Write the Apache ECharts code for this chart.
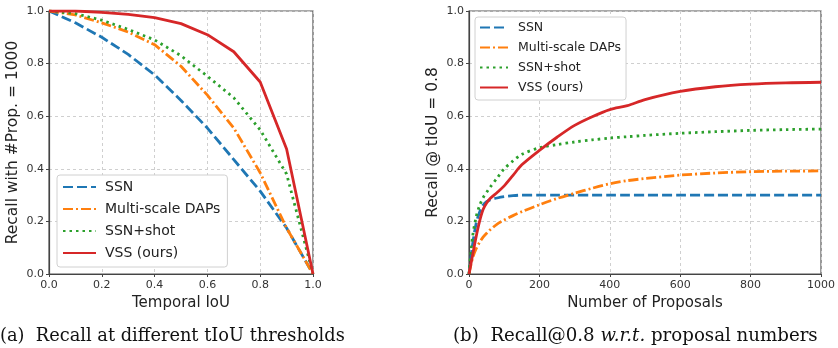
<!DOCTYPE html>
<html>
<head>
<meta charset="utf-8">
<script src="https://cdn.jsdelivr.net/npm/echarts@6/dist/echarts.min.js"></script>
<style>
  html, body { margin: 0; padding: 0; background: #fff; }
  #main { width: 838px; height: 348px; }
</style>
</head>
<body>
<div id="main"></div>
<script>
// (a) recall vs temporal IoU, #proposals = 1000
const iouThresh = [0.0, 0.1, 0.2, 0.3, 0.4, 0.5, 0.6, 0.7, 0.8, 0.9, 1.0];
const ssnIou  = [1.0, 0.955, 0.90, 0.835, 0.757, 0.66, 0.555, 0.435, 0.315, 0.175, 0.0];
const dapsIou = [1.0, 0.985, 0.955, 0.92, 0.872, 0.79, 0.68, 0.555, 0.385, 0.175, 0.0];
const shotIou = [1.0, 0.99, 0.965, 0.93, 0.89, 0.83, 0.752, 0.67, 0.548, 0.38, 0.0];
const vssIou  = [1.0, 1.0, 0.995, 0.987, 0.975, 0.952, 0.91, 0.845, 0.73, 0.475, 0.0];

// (b) recall@0.8 vs number of proposals
const proposals = [0, 10, 20, 30, 40, 50, 60, 80, 100, 125, 150, 200, 250, 300, 350, 400, 450, 500, 600, 700, 800, 900, 1000];
const ssnProp  = [0, 0.11, 0.19, 0.235, 0.262, 0.275, 0.282, 0.289, 0.294, 0.298, 0.30, 0.30, 0.30, 0.30, 0.30, 0.30, 0.30, 0.30, 0.30, 0.30, 0.30, 0.30, 0.30];
const dapsProp = [0, 0.06, 0.095, 0.12, 0.14, 0.155, 0.168, 0.19, 0.205, 0.222, 0.237, 0.263, 0.287, 0.307, 0.326, 0.343, 0.355, 0.363, 0.376, 0.384, 0.389, 0.391, 0.392];
const shotProp = [0, 0.14, 0.215, 0.26, 0.29, 0.31, 0.33, 0.365, 0.40, 0.43, 0.455, 0.48, 0.492, 0.502, 0.51, 0.517, 0.522, 0.527, 0.535, 0.541, 0.546, 0.549, 0.551];
const vssProp  = [0, 0.07, 0.14, 0.20, 0.245, 0.27, 0.287, 0.31, 0.335, 0.375, 0.415, 0.47, 0.52, 0.565, 0.598, 0.625, 0.64, 0.663, 0.694, 0.712, 0.722, 0.727, 0.729];

const names = ['SSN', 'Multi-scale DAPs', 'SSN+shot', 'VSS (ours)'];
const colors = ['#1f77b4', '#ff7f0e', '#2ca02c', '#d62728'];
const dashes = [[10, 4], [10, 3, 2, 3], [2.5, 4], 'solid'];

const FONT = 'DejaVu Sans';

function pairs(xs, ys) { return xs.map((x, i) => [x, ys[i]]); }

function makeSeries(gridIdx, xs, ysList, smooth) {
  return ysList.map((ys, k) => ({
    name: names[k],
    type: 'line',
    xAxisIndex: gridIdx,
    yAxisIndex: gridIdx,
    data: pairs(xs, ys),
    symbol: 'none',
    smooth: smooth,
    lineStyle: { color: colors[k], width: 2.8, type: dashes[k], cap: 'butt' },
    itemStyle: { color: colors[k] },
    z: 3 + k
  }));
}

function xAxisOpt(gridIdx, max, interval, name, fmt) {
  return {
    type: 'value', gridIndex: gridIdx, min: 0, max: max, interval: interval,
    name: name, nameLocation: 'middle', nameGap: 20,
    nameTextStyle: { fontFamily: FONT, fontSize: 15, color: '#222' },
    axisLine: { show: true, onZero: false, lineStyle: { color: '#444', width: 1.2 } },
    axisTick: { show: true, length: 3, lineStyle: { color: '#444' } },
    axisLabel: { fontFamily: FONT, fontSize: 11, color: '#333', margin: 6, formatter: fmt },
    splitLine: { show: true, lineStyle: { color: '#cfcfcf', type: [3, 3], width: 1 } }
  };
}

function yAxisOpt(gridIdx, name) {
  return {
    type: 'value', gridIndex: gridIdx, min: 0, max: 1, interval: 0.2,
    name: name, nameLocation: 'middle', nameGap: 28,
    nameTextStyle: { fontFamily: FONT, fontSize: 15.5, color: '#222' },
    axisLine: { show: true, lineStyle: { color: '#444', width: 1.2 } },
    axisTick: { show: true, length: 3, lineStyle: { color: '#444' } },
    axisLabel: { fontFamily: FONT, fontSize: 11, color: '#333', margin: 5, formatter: v => v.toFixed(1) },
    splitLine: { show: true, lineStyle: { color: '#cfcfcf', type: [3, 3], width: 1 } }
  };
}

var myChart = echarts.init(document.getElementById('main'));
myChart.setOption({
  animation: false,
  textStyle: { fontFamily: FONT },
  grid: [
    { left: 49, top: 11, width: 264, height: 263, show: true, borderColor: '#555', borderWidth: 1.2 },
    { left: 469, top: 11, width: 354, height: 263, show: true, borderColor: '#555', borderWidth: 1.2 }
  ],
  xAxis: [
    xAxisOpt(0, 1, 0.2, 'Temporal IoU', v => v.toFixed(1)),
    xAxisOpt(1, 1000, 200, 'Number of Proposals', v => String(v))
  ],
  yAxis: [
    yAxisOpt(0, 'Recall with #Prop. = 1000'),
    yAxisOpt(1, 'Recall @ tIoU = 0.8')
  ],
  legend: [
    {
      data: names, orient: 'vertical', left: 57, top: 175,
      itemWidth: 33, itemHeight: 14, itemGap: 8,
      padding: [5, 7, 7, 5],
      itemStyle: { opacity: 0 },
      backgroundColor: '#fff', borderColor: '#d0d0d0', borderWidth: 1, borderRadius: 3,
      textStyle: { fontFamily: FONT, fontSize: 14, color: '#222', padding: [0, 0, 0, 4] },
      selectedMode: false
    },
    {
      data: names, orient: 'vertical', left: 475, top: 17,
      itemWidth: 28, itemHeight: 12, itemGap: 7,
      padding: [4, 5, 6, 4],
      itemStyle: { opacity: 0 },
      backgroundColor: '#fff', borderColor: '#d0d0d0', borderWidth: 1, borderRadius: 3,
      textStyle: { fontFamily: FONT, fontSize: 12.5, color: '#222', padding: [0, 0, 0, 5] },
      selectedMode: false
    }
  ],
  graphic: [
    {
      type: 'text', left: 0, top: 327,
      style: { text: '(a)  Recall at different tIoU thresholds', font: '17.8px "DejaVu Serif"', fill: '#111' }
    },
    {
      type: 'text', left: 453, top: 327,
      style: {
        text: '(b)  Recall@0.8 {i|w.r.t.} proposal numbers',
        font: '18.2px "DejaVu Serif"', fill: '#111',
        rich: { i: { fontStyle: 'italic', fontFamily: 'DejaVu Serif', fontSize: 18.2, fill: '#111' } }
      }
    }
  ],
  series: [].concat(
    makeSeries(0, iouThresh, [ssnIou, dapsIou, shotIou, vssIou], false),
    makeSeries(1, proposals, [ssnProp, dapsProp, shotProp, vssProp], 0.3)
  )
});
</script>
</body>
</html>
